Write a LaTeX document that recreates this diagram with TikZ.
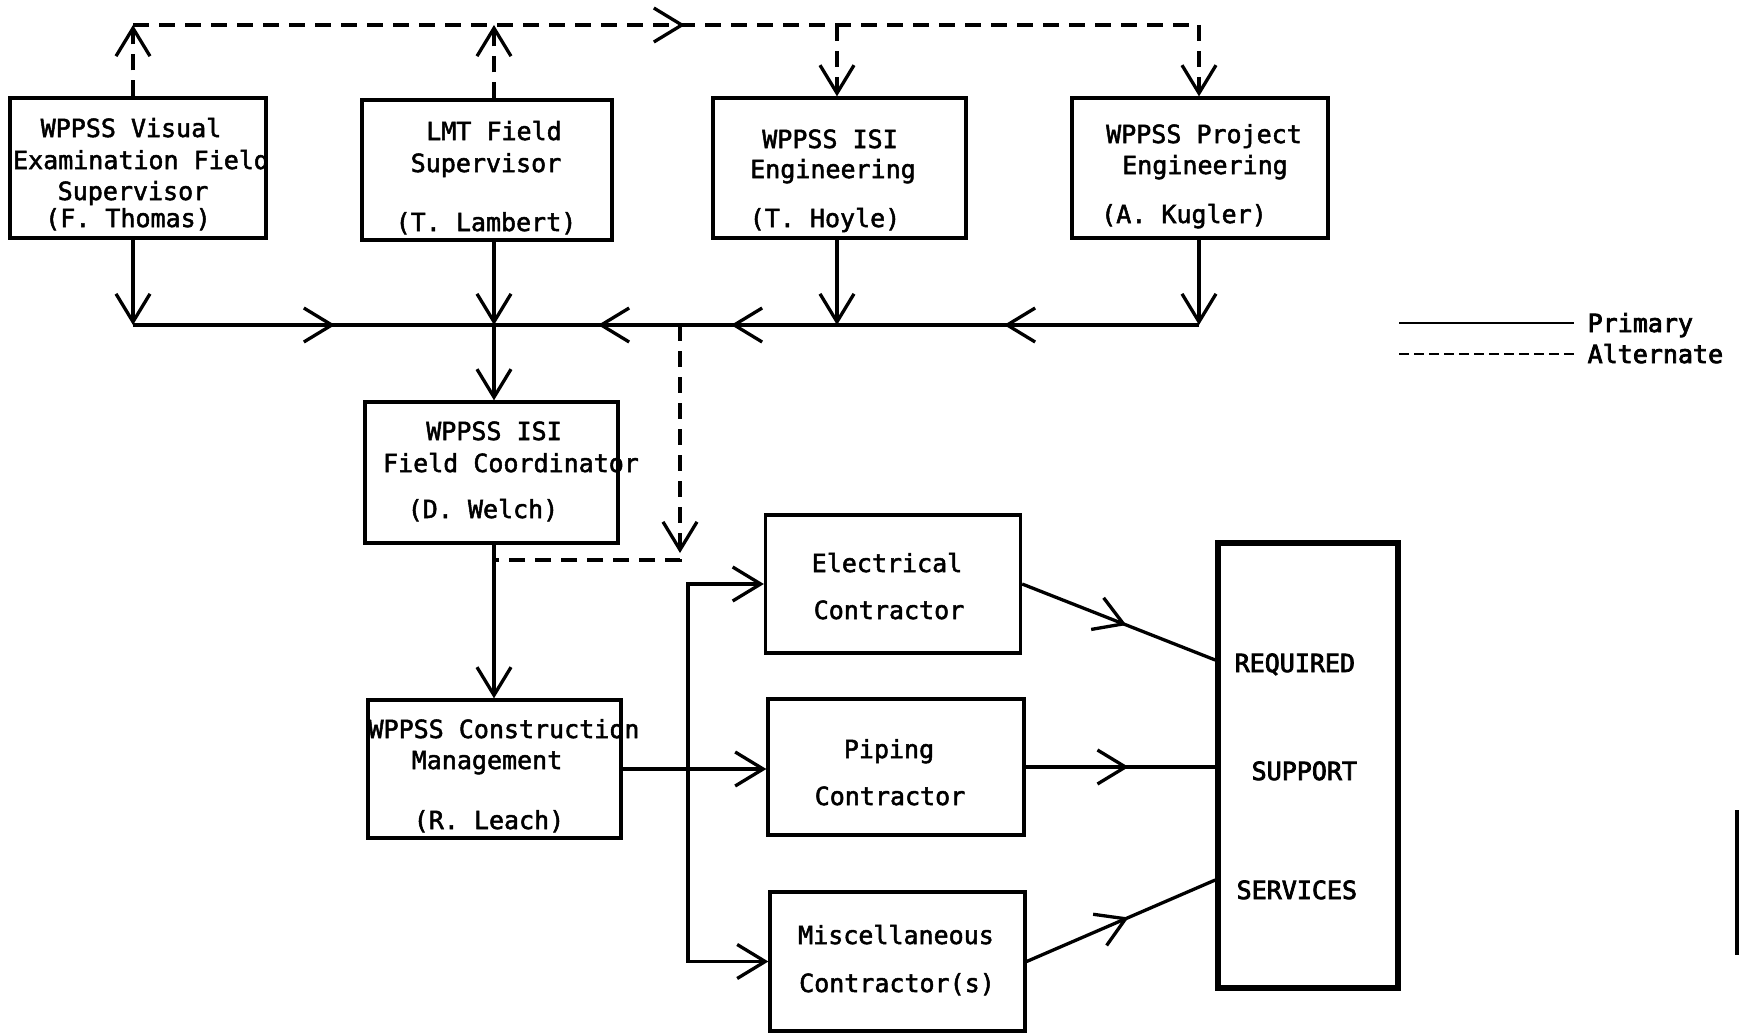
\documentclass[tikz,border=0pt]{standalone}
\usepackage{fontspec}
\newfontfamily\tw{DejaVu Sans Mono}[FakeBold=2]
\newfontfamily\twb{DejaVu Sans Mono}[FakeBold=3]
\usetikzlibrary{arrows.meta,decorations.markings}
\begin{document}
\begin{tikzpicture}[x=1pt,y=-1pt,
  line width=3.3pt,
  >={Straight Barb[length=28pt,width=34pt]},
  box/.style={draw, rectangle, line width=3.3pt, inner sep=0pt},
  lbl/.style={inner sep=0pt, anchor=base, font=\tw\fontsize{25pt}{30pt}\selectfont},
  lblw/.style={lbl, anchor=base west, font=\twb\fontsize{25pt}{30pt}\selectfont},
  alt/.style={dash pattern=on 16pt off 10pt},
  altkey/.style={dash pattern=on 10pt off 5pt},
  midarr/.style={postaction={decorate},
    decoration={markings, mark=at position #1 with {\arrow{>}}}}
]
\useasboundingbox (0,0) rectangle (1741,1033);

% ---- top row ----
\node[box, minimum width=256pt, minimum height=140pt] (thomas) at (138,168) {};
\node[lbl] (thomas1) at (131,137) {WPPSS Visual};
\node[lbl] (thomas2) at (141,169) {Examination Field};
\node[lbl] (thomas3) at (133,200) {Supervisor};
\node[lbl] (thomas4) at (128,227) {(F. Thomas)};

\node[box, minimum width=250pt, minimum height=140pt] (lambert) at (487,170) {};
\node[lbl] (lambert1) at (494,140) {LMT Field};
\node[lbl] (lambert2) at (486,172) {Supervisor};
\node[lbl] (lambert3) at (486,231) {(T. Lambert)};

\node[box, minimum width=253pt, minimum height=140pt] (hoyle) at (839.5,168) {};
\node[lbl] (hoyle1) at (830,148) {WPPSS ISI};
\node[lbl] (hoyle2) at (833,178) {Engineering};
\node[lbl] (hoyle3) at (825,227) {(T. Hoyle)};

\node[box, minimum width=256pt, minimum height=140pt] (kugler) at (1200,168) {};
\node[lbl] (kugler1) at (1204,143) {WPPSS Project};
\node[lbl] (kugler2) at (1205,174) {Engineering};
\node[lbl] (kugler3) at (1184,223) {(A. Kugler)};

% ---- middle column ----
\node[box, minimum width=253pt, minimum height=141pt] (welch) at (491.5,472.5) {};
\node[lbl] (welch1) at (494,440) {WPPSS ISI};
\node[lbl] (welch2) at (511,472) {Field Coordinator};
\node[lbl] (welch3) at (483,518) {(D. Welch)};

\node[box, minimum width=253pt, minimum height=138pt] (leach) at (494.5,769) {};
\node[lbl] (leach1) at (504,738) {WPPSS Construction};
\node[lbl] (leach2) at (487,769) {Management};
\node[lbl] (leach3) at (489,829) {(R. Leach)};

% ---- contractors ----
\node[box, minimum width=255pt, minimum height=138pt] (elec) at (893,584) {};
\node[lbl] (elec1) at (887,572) {Electrical};
\node[lbl] (elec2) at (889,619) {Contractor};

\node[box, minimum width=256pt, minimum height=136pt] (piping) at (896,767) {};
\node[lbl] (piping1) at (889,758) {Piping};
\node[lbl] (piping2) at (890,805) {Contractor};

\node[box, minimum width=255pt, minimum height=139pt] (misc) at (897.5,961.5) {};
\node[lbl] (misc1) at (896,944) {Miscellaneous};
\node[lbl] (misc2) at (897,992) {Contractor(s)};

% ---- support services ----
\node[box, line width=5.5pt, minimum width=180pt, minimum height=445pt] (rss) at (1308,765.5) {};
\node[lblw] (rss1) at (1233,672) {REQUIRED};
\node[lblw] (rss2) at (1250,780) {SUPPORT};
\node[lblw] (rss3) at (1235,899) {SERVICES};

% ---- junction points ----
\coordinate (colA) at (133,325);
\coordinate (colB) at (494,325);
\coordinate (colC) at (837,325);
\coordinate (colD) at (1199,325);
\coordinate (colE) at (680,325);
\coordinate (topA) at (133,25);
\coordinate (topB) at (494,25);
\coordinate (topC) at (837,25);
\coordinate (topD) at (1199,25);
\coordinate (dc) at (680,560);
\coordinate (vx) at (688,584);

% ---- alternate (dashed) routes ----
\draw[alt,->] (thomas.north -| colA) -- (topA);
\draw[alt,->] (lambert.north -| colB) -- (topB);
\draw[alt,->,midarr=552pt] (topA) -- (topD) -- (kugler.north -| colD);
\draw[alt,->] (topC) -- (hoyle.north -| colC);
\draw[alt,midarr=228pt] (colE) -- (dc) -- (dc -| colB);

% ---- primary (solid) routes ----
\draw[->] (thomas.south -| colA) -- (colA);
\draw[->] (lambert.south -| colB) -- (colB);
\draw[->] (hoyle.south -| colC) -- (colC);
\draw[->] (kugler.south -| colD) -- (colD);
\draw[midarr=202pt] (colA) -- (colB);
\draw[postaction={decorate}, decoration={markings,
    mark=at position 195pt with {\arrow{>}},
    mark=at position 468pt with {\arrow{>}},
    mark=at position 601pt with {\arrow{>}}}] (colD) -- (colB);
\draw[->] (colB) -- (welch.north -| colB);
\draw[->] (welch.south -| colB) -- (leach.north -| colB);
\draw[->] (leach.east) -- (leach.east -| piping.west);
\draw[<->] (elec.west) -- (vx) -- (vx |- misc.west) -- (misc.west);

\draw[midarr=0.54] (elec.east) -- (rss.west |- 0,660);
\draw[midarr=103pt] (piping.east) -- (piping.east -| rss.west);
\draw[midarr=0.54] (misc.east) -- (rss.west |- 0,880);

% ---- key ----
\coordinate (k1) at (1399,323);
\coordinate (k2) at (1574,323);
\coordinate (k3) at (1399,354);
\coordinate (k4) at (1574,354);
\draw[line width=2.5pt] (k1) -- (k2);
\draw[line width=2.5pt, altkey] (k3) -- (k4);
\node[lblw] (keyP) at (1586,332) {Primary};
\node[lblw] (keyA) at (1586,363) {Alternate};

% ---- edge mark ----
\draw[line width=4pt] (1737,810) -- (1737,955);
\end{tikzpicture}
\end{document}
